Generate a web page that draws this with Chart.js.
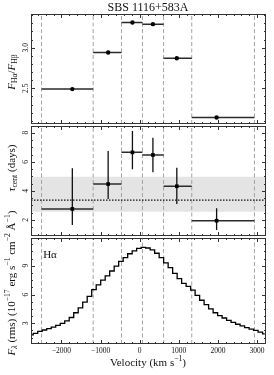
<!DOCTYPE html>
<html><head><meta charset="utf-8">
<script src="https://cdn.jsdelivr.net/npm/chart.js@4/dist/chart.umd.min.js"></script>
<style>
html,body{margin:0;padding:0;background:#fff;}
#wrap{position:relative;width:274px;height:375px;background:#fff;}
canvas{position:absolute;left:0;top:0;}
</style></head><body>
<div id="wrap">
<canvas id="c1" width="274" height="375"></canvas>
<canvas id="c2" width="274" height="375"></canvas>
<canvas id="c3" width="274" height="375"></canvas>
</div>
<script>
// ---------- data ----------
const chartTitle = 'SBS 1116+583A';
const velocityMin = -2780, velocityMax = 3230;
const binEdges = [-2510, -1190, -466, 70, 611, 1331, 2934];
const binCenters = [-1723, -807, -186, 338, 949, 1967];
const fluxRatio = [2.49, 2.94, 3.31, 3.29, 2.87, 2.14];
const fluxRatioErr = [0.012, 0.012, 0.012, 0.012, 0.012, 0.012];
const lagCent = [2.76, 4.47, 6.65, 6.47, 4.32, 1.95];
const lagUpper = [5.55, 6.74, 8.12, 7.66, 5.59, 2.80];
const lagLower = [1.66, 3.44, 5.48, 5.28, 3.10, 1.31];
const lagMean = 3.37, lagBandLow = 2.57, lagBandHigh = 4.98;
const specVelocity = [-2780,-2665,-2550,-2435,-2320,-2205,-2090,-1975,-1860,-1745,-1630,-1515,-1400,-1285,-1170,-1055,-940,-825,-710,-595,-480,-365,-250,-135,-20,95,210,325,440,555,670,785,900,1015,1130,1245,1360,1475,1590,1705,1820,1935,2050,2165,2280,2395,2510,2625,2740,2855,2970,3085,3200];
const specFlux = [1.80,1.95,2.15,2.30,2.45,2.60,2.78,2.98,3.25,3.60,4.10,4.60,5.20,5.80,6.50,7.00,7.50,7.95,8.45,8.95,9.45,9.85,10.25,10.55,10.80,10.92,10.85,10.65,10.30,9.85,9.30,8.80,8.20,7.65,7.15,6.85,6.45,5.90,5.40,4.95,4.50,4.10,3.80,3.55,3.30,3.10,2.90,2.72,2.55,2.40,2.25,2.08,1.90];
const xTickValues = [-2000, -1000, 0, 1000, 2000, 3000];
const xTickLabels = ['\u22122000', '\u22121000', '0', '1000', '2000', '3000'];
const topTicks = [2.5, 3.0], topTickLabels = ['2.5', '3.0'];
const midTicks = [2, 4, 6, 8], midTickLabels = ['2', '4', '6', '8'];
const botTicks = [3, 6, 9], botTickLabels = ['3', '6', '9'];

// ---------- helpers ----------
const FONT = '"Liberation Serif", "DejaVu Serif", serif';
const W = 274, H = 375, LEFT = 31, RIGHT = 266;

function drawRich(ctx, parts, cx, cy, size, rotate) {
  ctx.save();
  ctx.translate(cx, cy);
  if (rotate) ctx.rotate(-Math.PI / 2);
  const items = parts.map(([t, s]) => {
    let fs = size, dy = 0, style = '';
    if (s.indexOf('sub') >= 0) { fs = size * 0.7; dy = size * 0.28; }
    if (s.indexOf('sup') >= 0) { fs = size * 0.7; dy = -size * 0.38; }
    if (s[0] === 'i') style = 'italic ';
    const font = style + fs + 'px ' + FONT;
    ctx.font = font;
    return { t, font, dy, w: ctx.measureText(t).width };
  });
  const total = items.reduce((a, b) => a + b.w, 0);
  let x = -total / 2;
  ctx.textBaseline = 'middle'; ctx.textAlign = 'left'; ctx.fillStyle = '#111';
  for (const it of items) { ctx.font = it.font; ctx.fillText(it.t, x, it.dy); x += it.w; }
  ctx.restore();
}

function range(a, b, step) { const r = []; for (let v = Math.ceil(a / step) * step; v <= b + 1e-9; v += step) r.push(+v.toFixed(6)); return r; }

function panelPlugin(p) {
  return {
    id: 'panel_' + p.name,
    afterDraw(chart) {
      const ctx = chart.ctx, a = chart.chartArea, xs = chart.scales.x, ys = chart.scales.y;
      ctx.save();
      ctx.strokeStyle = '#333'; ctx.lineWidth = 1;
      ctx.strokeRect(Math.round(a.left) + 0.5, Math.round(a.top) + 0.5, Math.round(a.right - a.left) - 1, Math.round(a.bottom - a.top) - 1);
      // x ticks
      ctx.beginPath();
      for (const v of range(xs.min, xs.max, 200)) {
        const px = Math.round(xs.getPixelForValue(v)) + 0.5;
        const len = (Math.abs(v % 1000) < 1e-6) ? 4 : 2;
        ctx.moveTo(px, a.bottom); ctx.lineTo(px, a.bottom - len);
        ctx.moveTo(px, a.top); ctx.lineTo(px, a.top + len);
      }
      for (const v of range(ys.min, ys.max, p.minor)) {
        const py = Math.round(ys.getPixelForValue(v)) + 0.5;
        const isMaj = p.ticks.some(t => Math.abs(t - v) < 1e-6);
        const len = isMaj ? 4 : 2;
        ctx.moveTo(a.left, py); ctx.lineTo(a.left + len, py);
        ctx.moveTo(a.right, py); ctx.lineTo(a.right - len, py);
      }
      ctx.stroke();
      // y tick labels (rotated)
      ctx.fillStyle = '#111';
      ctx.font = '7.5px ' + FONT;
      ctx.textAlign = 'center'; ctx.textBaseline = 'middle';
      p.ticks.forEach((t, i) => {
        const py = ys.getPixelForValue(t);
        ctx.save(); ctx.translate(a.left - 5, py); ctx.rotate(-Math.PI / 2);
        ctx.fillText(p.tickLabels[i], 0, 0); ctx.restore();
      });
      if (p.xlabels) {
        xTickValues.forEach((v, i) => {
          ctx.fillText(xTickLabels[i], xs.getPixelForValue(v), a.bottom + 7);
        });
      }
      ctx.restore();
      if (p.extra) p.extra(ctx, chart);
    }
  };
}

function baseOptions(top, bottom, ymin, ymax) {
  return {
    responsive: false, animation: false, devicePixelRatio: 1, events: [],
    layout: { padding: { left: LEFT, right: W - RIGHT, top: top, bottom: H - bottom } },
    scales: {
      x: { type: 'linear', min: velocityMin, max: velocityMax, display: false },
      y: { type: 'linear', min: ymin, max: ymax, display: false }
    },
    plugins: { legend: { display: false }, tooltip: { enabled: false } }
  };
}

function dashedEdges(ymin, ymax) {
  const d = [];
  binEdges.forEach(e => { d.push({ x: e, y: ymin }, { x: e, y: ymax }, { x: e, y: null }); });
  return { type: 'line', data: d, borderColor: '#a3a3a3', borderWidth: 1, borderDash: [4, 2.5], pointRadius: 0, spanGaps: false, order: 9 };
}
function binBars(vals) {
  const d = [];
  vals.forEach((v, i) => { d.push({ x: binEdges[i], y: v }, { x: binEdges[i + 1], y: v }, { x: binEdges[i + 1], y: null }); });
  return { type: 'line', data: d, borderColor: '#2b2b2b', borderWidth: 1.5, pointRadius: 0, spanGaps: false, order: 5 };
}
function errBars(lo, hi) {
  const d = [];
  binCenters.forEach((c, i) => { d.push({ x: c, y: lo[i] }, { x: c, y: hi[i] }, { x: c, y: null }); });
  return { type: 'line', data: d, borderColor: '#111', borderWidth: 1.3, pointRadius: 0, spanGaps: false, order: 4 };
}

// ---------- top panel ----------
const topMin = 2.06, topMax = 3.415;
new Chart(document.getElementById('c1'), {
  type: 'scatter',
  data: { datasets: [
    dashedEdges(topMin, topMax),
    binBars(fluxRatio),
    errBars(fluxRatio.map((v, i) => v - fluxRatioErr[i]), fluxRatio.map((v, i) => v + fluxRatioErr[i])),
    { type: 'scatter', data: binCenters.map((c, i) => ({ x: c, y: fluxRatio[i] })), pointStyle: 'circle', pointRadius: 2.2, backgroundColor: '#000', borderColor: '#000', borderWidth: 0, order: 1 }
  ] },
  options: baseOptions(14, 124, topMin, topMax),
  plugins: [panelPlugin({ name: 'top', minor: 0.1, ticks: topTicks, tickLabels: topTickLabels,
    extra(ctx) {
      drawRich(ctx, [[chartTitle, 'n']], 148, 8, 12, false);
      drawRich(ctx, [['F', 'i'], ['H\u03b1', 'sub'], ['/', 'n'], ['F', 'i'], ['H\u03b2', 'sub']], 12, 72, 11, true);
    } })]
});

// ---------- middle panel ----------
const midMin = 0.9, midMax = 8.46;
new Chart(document.getElementById('c2'), {
  type: 'scatter',
  data: { datasets: [
    { type: 'line', data: [{ x: velocityMin, y: lagBandHigh }, { x: velocityMax, y: lagBandHigh }], borderWidth: 0, pointRadius: 0, fill: { value: lagBandLow }, backgroundColor: '#e4e4e4', order: 10 },
    dashedEdges(midMin, midMax),
    { type: 'line', data: [{ x: velocityMin, y: lagMean }, { x: velocityMax, y: lagMean }], borderColor: '#111', borderWidth: 1.2, borderDash: [1.5, 1.5], pointRadius: 0, order: 8 },
    binBars(lagCent),
    errBars(lagLower, lagUpper),
    { type: 'scatter', data: binCenters.map((c, i) => ({ x: c, y: lagCent[i] })), pointStyle: 'rect', pointRadius: 2.6, backgroundColor: '#000', borderColor: '#000', borderWidth: 0, order: 1 }
  ] },
  options: baseOptions(126, 236, midMin, midMax),
  plugins: [panelPlugin({ name: 'mid', minor: 0.5, ticks: midTicks, tickLabels: midTickLabels,
    extra(ctx) {
      drawRich(ctx, [['\u03c4', 'i'], ['cent', 'sub'], [' (days)', 'n']], 12, 168, 11, true);
    } })]
});

// ---------- bottom panel ----------
const botMin = 0.84, botMax = 11.89;
new Chart(document.getElementById('c3'), {
  type: 'scatter',
  data: { datasets: [
    dashedEdges(botMin, botMax),
    { type: 'line', data: specVelocity.map((v, i) => ({ x: v, y: specFlux[i] })), stepped: 'middle', borderColor: '#000', borderWidth: 1.3, pointRadius: 0, order: 2 }
  ] },
  options: baseOptions(238, 344, botMin, botMax),
  plugins: [panelPlugin({ name: 'bot', minor: 0.75, ticks: botTicks, tickLabels: botTickLabels, xlabels: true,
    extra(ctx) {
      drawRich(ctx, [['H\u03b1', 'n']], 50, 255, 11, false);
      drawRich(ctx, [['Velocity (km s', 'n'], ['\u22121', 'sup'], [')', 'n']], 148, 363, 11, false);
      drawRich(ctx, [['F', 'i'], ['\u03bb', 'isub'], [' (rms) (10', 'n'], ['\u221217', 'sup'], [' erg s', 'n'], ['\u22121', 'sup'], [' cm', 'n'], ['\u22122', 'sup'], [' \u00c5', 'n'], ['\u22121', 'sup'], [')', 'n']], 12, 283, 11, true);
    } })]
});
</script>
</body></html>
